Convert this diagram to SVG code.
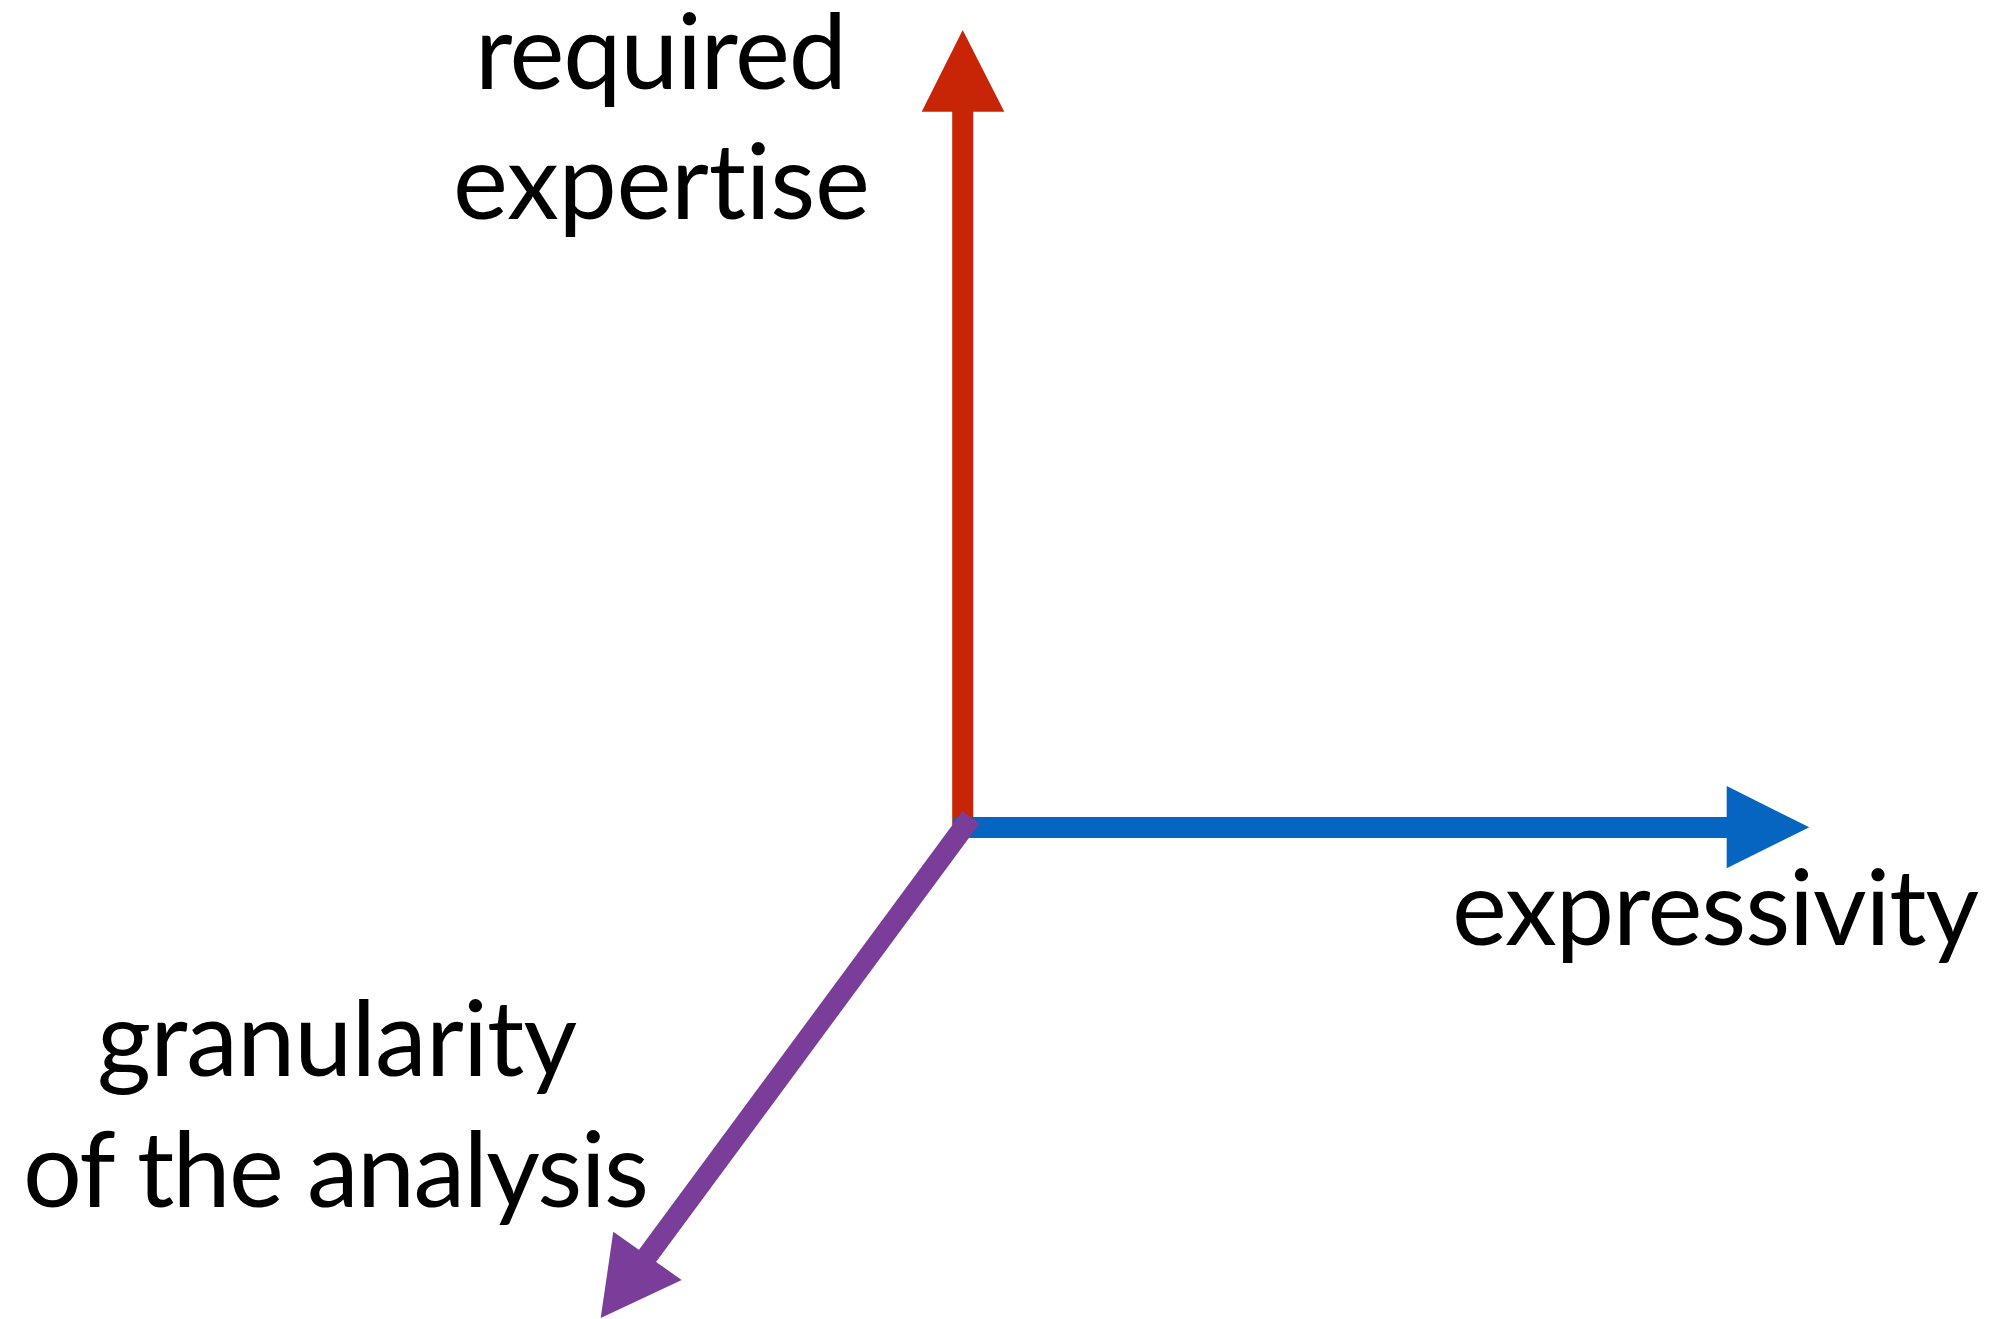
<svg xmlns="http://www.w3.org/2000/svg" width="1989" height="1319" viewBox="0 0 1989 1319">
  <style>
    .label { font-family: "Lato", "Open Sans", "Liberation Sans", sans-serif; font-size: 104px; fill: #000000; font-variant-ligatures: none; font-feature-settings: "liga" 0, "clig" 0; }
    .axis { fill: none; stroke-width: 21; stroke-linecap: butt; }
  </style>
  <rect x="0" y="0" width="1989" height="1319" fill="#ffffff"/>

  <!-- axes: red drawn first, blue over it, purple on top -->
  <g id="connectors">
    <g id="axis-expertise">
      <line class="axis" x1="962.7" y1="827" x2="962.7" y2="108" stroke="#C82506"/>
      <polygon points="962.7,30 1004.3,111.7 921.7,111.7" fill="#C82506"/>
    </g>
    <g id="axis-expressivity">
      <line class="axis" x1="953" y1="827.5" x2="1730" y2="827.5" stroke="#0565C0"/>
      <polygon points="1809.3,827.3 1726.7,868.3 1726.7,786" fill="#0565C0"/>
    </g>
    <g id="axis-granularity">
      <line class="axis" x1="971" y1="817.5" x2="635.6" y2="1272" stroke="#7A3E9A"/>
      <polygon points="600.7,1318 613.3,1231.7 681.7,1280" fill="#7A3E9A"/>
    </g>
  </g>

  <!-- axis labels -->
  <g id="label-expertise">
    <text class="label" x="661" y="89" text-anchor="middle" textLength="372">required</text>
    <text class="label" x="661.5" y="219" text-anchor="middle" textLength="417">expertise</text>
  </g>
  <g id="label-expressivity">
    <text class="label" x="1715.5" y="945" text-anchor="middle" textLength="527">expressivity</text>
  </g>
  <g id="label-granularity">
    <text class="label" x="337" y="1076" text-anchor="middle" textLength="480">granularity</text>
    <text class="label" x="336" y="1207" text-anchor="middle" textLength="626">of the analysis</text>
  </g>
</svg>
